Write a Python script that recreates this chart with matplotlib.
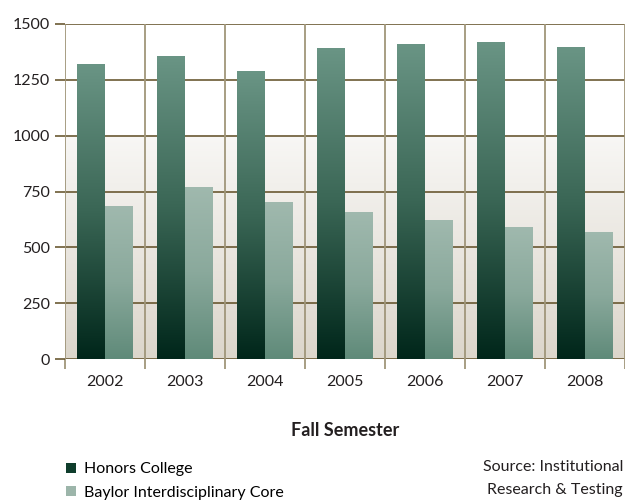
import numpy as np
import matplotlib
matplotlib.use("Agg")
import matplotlib.pyplot as plt
from matplotlib.colors import LinearSegmentedColormap
from matplotlib.patches import Patch

plt.rcParams['font.family'] = ['Lato', 'DejaVu Sans']

years = ['2002', '2003', '2004', '2005', '2006', '2007', '2008']
honors = [1320, 1356, 1289, 1392, 1410, 1418, 1396]
bic = [685, 770, 703, 658, 623, 591, 569]
yticks = [0, 250, 500, 750, 1000, 1250, 1500]

dark_cmap = LinearSegmentedColormap.from_list('dk', ['#00261a', '#3a6655', '#6a9585'])
light_cmap = LinearSegmentedColormap.from_list('lt', ['#5f8a79', '#8aa99c', '#a0b9ae'])
bg_cmap = LinearSegmentedColormap.from_list('bg', ['#dcd6cb', '#f8f7f5'])

fig = plt.figure(figsize=(6.25, 5.04), dpi=100)
ax = fig.add_axes([65 / 625, 1 - 359.3 / 504, 559.5 / 625, 335.6 / 504])

x = np.arange(len(years))
w = 0.35
ax.set_xlim(-0.5, len(years) - 0.5)
ax.set_ylim(0, 1500)

# background: white above 1000, gradient below
grad = np.linspace(0, 1, 256).reshape(-1, 1)
ax.imshow(grad, cmap=bg_cmap, aspect='auto', origin='lower',
          extent=(-0.5, len(years) - 0.5, 0, 1000), zorder=0)

def grad_bars(xs, vals, cmap):
    bars = ax.bar(xs, vals, w, color='none', zorder=3)
    for b in bars:
        x0, y0 = b.get_x(), b.get_y()
        im = ax.imshow(grad, cmap=cmap, aspect='auto', origin='lower',
                       extent=(x0, x0 + b.get_width(), y0, y0 + b.get_height()),
                       zorder=3)
        im.set_clip_path(b)
    return bars

grad_bars(x - w / 2, honors, dark_cmap)
grad_bars(x + w / 2, bic, light_cmap)

# grid
for yv in yticks:
    ax.axhline(yv, color='#5e4c22', lw=1.1, zorder=2)
for xv in np.arange(-0.5, len(years), 1):
    ax.axvline(xv, color='#a0967a', lw=1.3, zorder=2)

ax.set_xlim(-0.5, len(years) - 0.5)
ax.set_ylim(0, 1500)
for s in ax.spines.values():
    s.set_visible(False)

ax.set_yticks(yticks)
ax.set_yticklabels([str(v) for v in yticks], fontsize=11.5, color='#231f20')
ax.tick_params(axis='y', length=7, width=1.1, color='#5e4c22', pad=4)
ax.set_xticks(x)
ax.set_xticklabels(years, fontsize=11.5, color='#231f20')
ax.set_xticks(np.arange(-0.5, len(years), 1), minor=True)
ax.tick_params(axis='x', which='major', length=0, pad=11)
ax.tick_params(axis='x', which='minor', length=7, width=1.3, color='#a0967a')

fig.text(345 / 625, 1 - 430 / 504, 'Fall Semester', ha='center', va='center',
         fontsize=13, fontweight='bold', color='#231f20')

handles = [Patch(facecolor='#0f3d2c', label='Honors College'),
           Patch(facecolor='#9cb5aa', label='Baylor Interdisciplinary Core')]
fig.legend(handles=handles, loc='upper left', bbox_to_anchor=(60 / 625, 1 - 456 / 504),
           frameon=False, fontsize=11.5, handlelength=0.6, handleheight=0.6,
           handletextpad=0.5, labelspacing=0.6, borderaxespad=0)

fig.text(623 / 625, 1 - 467 / 504, 'Source: Institutional', ha='right', va='center',
         fontsize=11.5, color='#231f20')
fig.text(555 / 625, 1 - 490 / 504, 'Research & Testing', ha='center', va='center',
         fontsize=11.5, color='#231f20')

fig.savefig('out.png', dpi=100)
